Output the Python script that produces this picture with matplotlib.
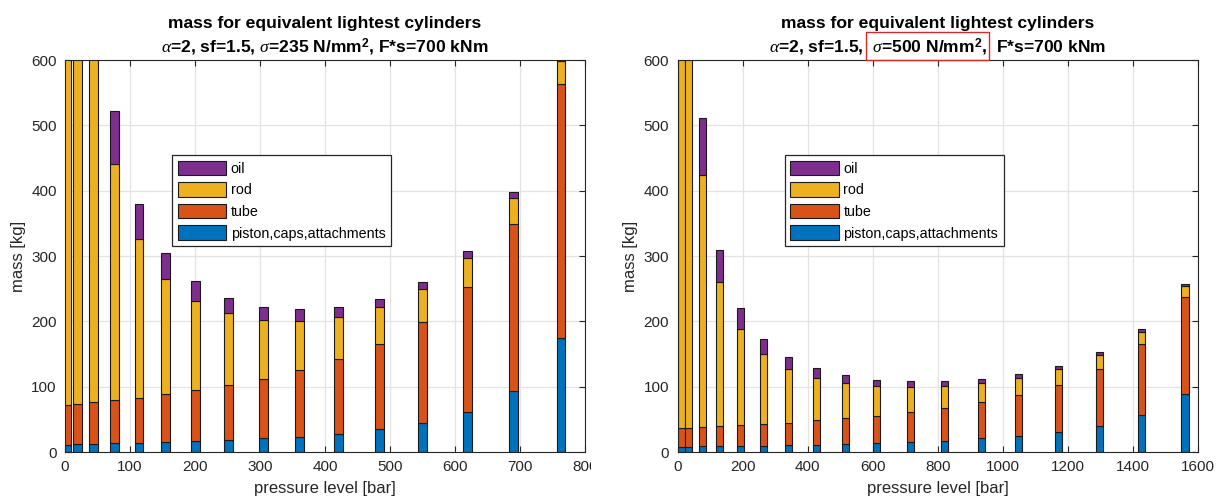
import matplotlib
matplotlib.use('Agg')
import numpy as np
import matplotlib.pyplot as plt
from matplotlib.patches import Rectangle
from matplotlib.transforms import Bbox, TransformedBbox

plt.rcParams['font.family'] = ['Liberation Sans', 'DejaVu Sans']
plt.rcParams['mathtext.fontset'] = 'custom'
plt.rcParams['mathtext.rm'] = 'Liberation Sans'
plt.rcParams['mathtext.it'] = 'Liberation Serif:italic'
plt.rcParams['mathtext.bf'] = 'Liberation Sans:bold'

# sigma = 235 N/mm^2
p_235 = [2, 19, 44, 76, 114, 155, 201, 251, 305, 361, 421, 484, 550, 619, 690, 763]
piston_235 = [10.7, 11.7, 11.7, 13.3, 13.3, 14.8, 16.8, 18.4, 20.9, 23.5, 28.0, 35.2, 44.4, 61.2, 93.4, 174.5]
tube_235 = [61.2, 61.8, 64.8, 66.3, 69.9, 74.0, 78.1, 84.2, 91.3, 101.5, 113.9, 130.1, 154.6, 191.8, 256.1, 388.3]
rod_235 = [2400, 1300, 800, 361.2, 242.8, 176.5, 135.7, 109.7, 89.8, 75.5, 65.2, 56.2, 50.5, 44.0, 38.8, 35.7]
oil_235 = [300, 190, 125, 81.2, 54.0, 39.7, 31.4, 23.9, 20.4, 17.9, 14.4, 13.2, 11.2, 10.2, 9.2, 8.5]

# sigma = 500 N/mm^2
p_500 = [11, 33, 77, 129, 193, 264, 341, 427, 517, 613, 715, 821, 934, 1049, 1172, 1296, 1426, 1560]
piston_500 = [8.2, 8.2, 8.7, 9.2, 9.5, 9.7, 10.2, 11.2, 12.2, 13.8, 15.3, 17.5, 20.9, 24.5, 30.6, 39.8, 56.1, 88.3]
tube_500 = [28.0, 29.0, 29.6, 30.1, 31.8, 32.6, 34.7, 37.3, 39.4, 41.8, 45.4, 49.3, 55.1, 62.7, 72.4, 87.2, 109.2, 149.0]
rod_500 = [2000, 900, 386.2, 220.4, 146.5, 107.2, 81.7, 64.3, 53.5, 44.9, 38.3, 33.7, 29.6, 25.6, 24.0, 21.0, 18.9, 16.8]
oil_500 = [500, 200, 86.2, 49.0, 32.6, 23.5, 18.3, 15.3, 12.3, 10.2, 9.2, 7.7, 6.1, 6.6, 5.1, 4.6, 4.6, 3.5]

labels = ['piston,caps,attachments', 'tube', 'rod', 'oil']
colors = ['#0072BD', '#D95319', '#EDB120', '#7E2F8E']
dark = '#262626'


def stacked(ax, x, parts, width, xmax, xstep, title):
    bottom = np.zeros(len(x))
    handles = []
    for vals, c, lab in zip(parts, colors, labels):
        h = ax.bar(x, vals, width, bottom=bottom, color=c, edgecolor='#1a1a1a',
                   linewidth=0.8, label=lab, zorder=2)
        handles.append(h)
        bottom = bottom + np.array(vals)
    ax.set_xlim(0, xmax)
    ax.set_ylim(0, 600)
    ax.set_xticks(np.arange(0, xmax + 1, xstep))
    ax.set_yticks(np.arange(0, 601, 100))
    ax.grid(True, color='#e3e3e3', linewidth=0.9, zorder=0)
    ax.set_axisbelow(True)
    ax.tick_params(direction='in', top=True, right=True, length=4.5, width=0.8,
                   labelsize=11, colors=dark, pad=6)
    for s in ax.spines.values():
        s.set_color(dark)
        s.set_linewidth(0.8)
    ax.set_xlabel('pressure level [bar]', fontsize=12, color=dark, labelpad=5)
    ax.set_ylabel('mass [kg]', fontsize=12, color=dark, labelpad=4)
    ax.set_title(title, fontsize=12.6, fontweight='bold', linespacing=1.4, pad=5)
    leg = ax.legend(handles[::-1], labels[::-1], loc='upper left',
                    bbox_to_anchor=(0.206, 0.758), borderaxespad=0, fontsize=10.3,
                    handlelength=3.4, handleheight=1.2, handletextpad=0.3,
                    labelspacing=0.45, borderpad=0.4, fancybox=False,
                    framealpha=1, edgecolor=dark)
    leg.get_frame().set_linewidth(0.9)
    return ax


fig = plt.figure(figsize=(12.23, 5.03), dpi=100)
ax1 = fig.add_axes([65 / 1223, 1 - 452 / 503, 520 / 1223, 392 / 503])
ax2 = fig.add_axes([677.5 / 1223, 1 - 452 / 503, 520.5 / 1223, 392 / 503])

stacked(ax1, p_235, [piston_235, tube_235, rod_235, oil_235], 13.5, 800, 100,
        'mass for equivalent lightest cylinders\n'
        r'$\alpha$=2, sf=1.5, $\sigma$=235 N/mm$^{\mathbf{2}}$, F*s=700 kNm')
stacked(ax2, p_500, [piston_500, tube_500, rod_500, oil_500], 22, 1600, 200,
        'mass for equivalent lightest cylinders\n'
        r'$\alpha$=2, sf=1.5,  $\sigma$=500 N/mm$^{\mathbf{2}}$,  F*s=700 kNm')

# the "800" label is cut off at the right in the original
fig.canvas.draw()
lbl = ax1.get_xticklabels()[-1]
lbl.set_clip_box(TransformedBbox(Bbox([[0, 0], [591 / 1223, 1]]), fig.transFigure))
lbl.set_clip_on(True)

# red box around the changed parameter
fig.patches.append(Rectangle((866 / 1223, 1 - 60 / 503), 123 / 1223, 28 / 503,
                             transform=fig.transFigure, fill=False,
                             edgecolor='#d42a2a', linewidth=1.0))

fig.savefig('out.png', dpi=100)
